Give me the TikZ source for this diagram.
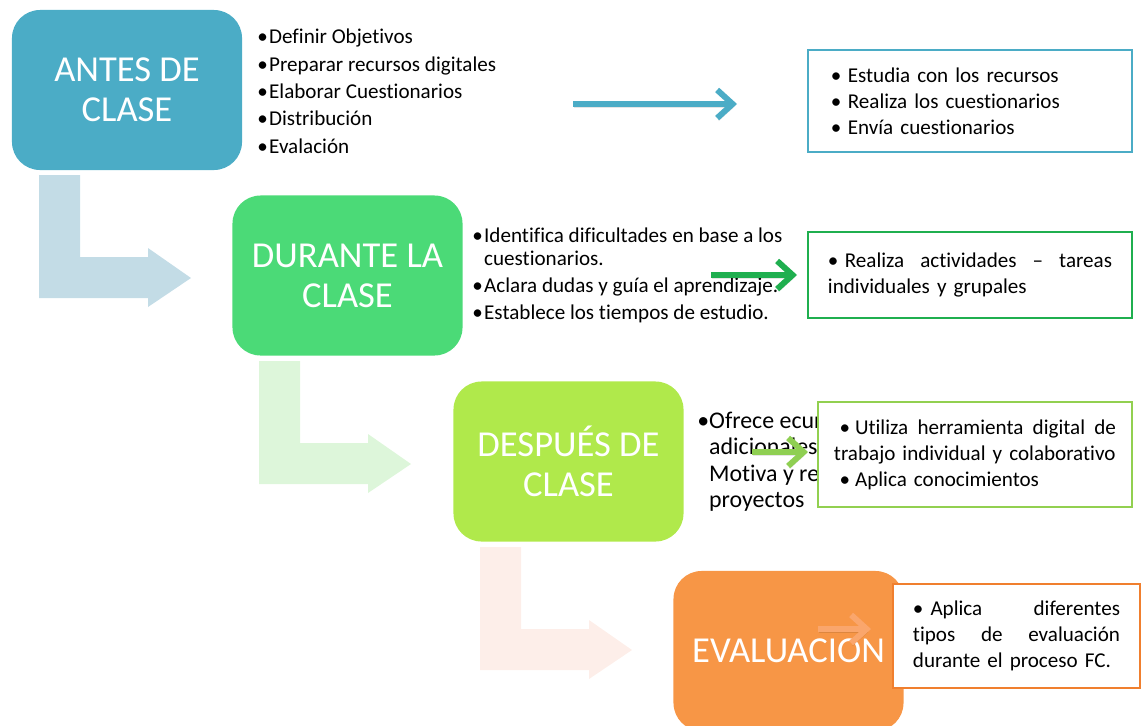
\documentclass[tikz,border=0pt]{standalone}
\usepackage{fontspec}
\setmainfont{Carlito}[Ligatures=NoCommon]
\usetikzlibrary{arrows.meta, positioning}
\definecolor{cantes}{HTML}{4BACC6}
\definecolor{cdurante}{HTML}{4BDA77}
\definecolor{cdespues}{HTML}{B0E94B}
\definecolor{ceval}{HTML}{F79646}
\definecolor{cbentA}{HTML}{C3DCE6}
\definecolor{cbentB}{HTML}{DDF6DA}
\definecolor{cbentC}{HTML}{FDEEE9}
\definecolor{cgreen}{HTML}{1FAF4F}
\definecolor{clime}{HTML}{8FCF52}
\definecolor{corange}{HTML}{FAA66C}
\definecolor{cborderC}{HTML}{92D050}
\definecolor{cborderD}{HTML}{F07F2E}
\newcommand{\spreadline}[2]{\makebox[#1][s]{#2}}
\tikzset{
  stage/.style={fill=#1, rounded corners=20pt, text=white, align=center, minimum width=5.75cm, minimum height=4cm, font=\fontsize{26}{28.5}\selectfont},
  taskbox/.style={draw=#1, fill=white, line width=0.9pt, align=left, font=\fontsize{15}{18.5}\selectfont},
  bullets/.style={align=left, inner sep=0pt, anchor=north west, font=\fontsize{15}{19.4}\selectfont},
  flow/.style={draw=#1, line width=4.2pt, -{Straight Barb[length=11pt, width=20pt]},
    preaction={draw=black, opacity=0.1, transform canvas={xshift=1pt, yshift=-2pt}}},
}

\begin{document}
\begin{tikzpicture}[x=0.025cm, y=-0.025cm]
  \useasboundingbox (0,0) rectangle (1144,725);
  % bent arrows between the stages
  \foreach \dx/\dy/\c in {0/0/cbentA, 220/186/cbentB, 441/372/cbentC}
    \fill[\c, shift={(\dx,\dy)}] (39,175) -- (80,175) -- (80,257) -- (148,257) -- (148,248)
      -- (191,278) -- (148,307) -- (148,298) -- (39,298) -- cycle;

  % stages
  \node[stage=cantes] (antes) at (127,90) {ANTES DE\\CLASE};
  \node[stage=cdurante] (durante) at (347.5,275.5) {DURANTE LA\\CLASE};
  \node[stage=cdespues] (despues) at (568.5,461.5) {DESPUÉS DE\\CLASE};
  \node[stage=ceval] (eval) at (788.5,651) {EVALUACION};

  % teacher lists
  \node[bullets] (antesl) at (257,29) {•\kern1pt Definir Objetivos\\•\kern1pt Preparar recursos digitales\\•\kern1pt Elaborar Cuestionarios\\•\kern1pt Distribución\\•\kern1pt Evalación};
  \node[bullets, font=\fontsize{15}{16.4}\selectfont] (durantel) at (472,228)
    {•\kern1pt Identifica dificultades en base a los\\\hphantom{•\kern1pt}cuestionarios.\\[2.8pt]•\kern1pt Aclara dudas y guía el aprendizaje.\\[2.8pt]•\kern1pt Establece los tiempos de estudio.};
  \node[bullets, font=\fontsize{17}{18.7}\selectfont] (despuesl) at (697,412)
    {•Ofrece ecur\\\hphantom{•}adicionales.\\\hphantom{•}Motiva y re\\\hphantom{•}proyectos};

  % flow arrows
  \coordinate (f1s) at (573,104);
  \coordinate (f1e) at (737,104);
  \coordinate (f2s) at (711,275);
  \coordinate (f2e) at (797,275);
  \coordinate (f3s) at (752,452);
  \coordinate (f3e) at (808,452);
  \coordinate (f4s) at (818,629);
  \coordinate (f4e) at (871,629);
  \draw[flow=cantes] (f1s) -- (f1e);
  \draw[flow=cgreen] (f2s) -- (f2e);
  \draw[flow=clime] (f3s) -- (f3e);
  \draw[flow=corange] (f4s) -- (f4e);

  % student tasks
  \node[taskbox=cantes, minimum width=8.1cm, minimum height=2.55cm, text width=6.95cm] (antest) at (970,101)
    {\makebox[12pt][l]{•}Estudia con los recursos\\\makebox[12pt][l]{•}Realiza los cuestionarios\\\makebox[12pt][l]{•}Envía cuestionarios};
  \node[taskbox=cgreen, minimum width=8.1cm, minimum height=2.15cm, text width=7.1cm] (durantet) at (970,275)
    {\spreadline{7.1cm}{\makebox[12pt][l]{•}Realiza\hfill actividades\hfill –\hfill tareas}\\individuales y grupales\\[6pt]};
  \node[taskbox=cborderC, minimum width=7.85cm, minimum height=2.625cm, text width=7.05cm] (despuest) at (975,454.5)
    {\spreadline{7.05cm}{\hspace*{4pt}\makebox[11pt][l]{•}Utiliza\hfill herramienta\hfill digital\hfill de}\\trabajo individual y colaborativo\\\hspace*{4pt}\makebox[11pt][l]{•}Aplica conocimientos};
  \node[taskbox=cborderD, minimum width=6.175cm, minimum height=2.6cm, text width=5.175cm] (evalt) at (1016.5,636)
    {\spreadline{5.175cm}{•\hspace{5pt}Aplica\hfill diferentes}\\\spreadline{5.175cm}{tipos\hfill de\hfill evaluación}\\durante el proceso FC.};
\end{tikzpicture}
\end{document}
